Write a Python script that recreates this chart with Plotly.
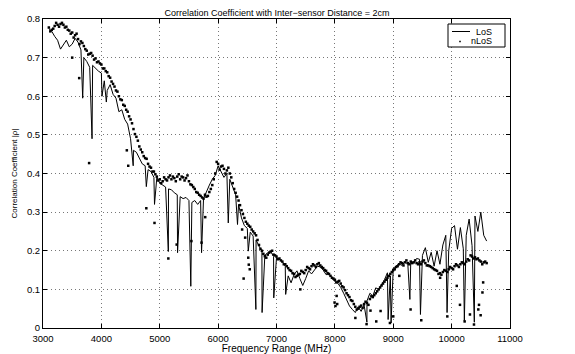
import plotly.graph_objects as go

# Frequency grid (MHz) for the sampled traces
freq = list(range(3100, 10601, 50))
freq_b = list(range(3125, 10576, 50))

los_vals = [
    0.775, 0.768, 0.755, 0.745, 0.722, 0.735, 0.745, 0.728, 0.735, 0.750,
    0.740, 0.720, 0.700, 0.690, 0.675, 0.680, 0.672, 0.665, 0.660, 0.640,
    0.615, 0.630, 0.605, 0.595, 0.560, 0.565, 0.540, 0.528, 0.490, 0.460,
    0.455, 0.440, 0.425, 0.420, 0.410, 0.405, 0.390, 0.390, 0.375, 0.370,
    0.365, 0.360, 0.358, 0.350, 0.345, 0.340, 0.335, 0.338, 0.330, 0.325,
    0.330, 0.320, 0.330, 0.335, 0.355, 0.370, 0.385, 0.395, 0.420, 0.405,
    0.390, 0.400, 0.385, 0.365, 0.345, 0.320, 0.285, 0.265, 0.258, 0.248,
    0.238, 0.228, 0.212, 0.200, 0.188, 0.195, 0.198, 0.185, 0.183, 0.178,
    0.172, 0.160, 0.135, 0.117, 0.138, 0.148, 0.128, 0.110, 0.128, 0.148,
    0.140, 0.150, 0.160, 0.158, 0.150, 0.138, 0.140, 0.130, 0.120, 0.116,
    0.105, 0.090, 0.074, 0.057, 0.048, 0.040, 0.055, 0.043, 0.060, 0.070,
    0.090, 0.083, 0.104, 0.100, 0.113, 0.125, 0.143, 0.135, 0.155, 0.160,
    0.168, 0.162, 0.172, 0.165, 0.172, 0.170, 0.180, 0.178, 0.188, 0.208,
    0.170, 0.196, 0.160, 0.200, 0.165, 0.215, 0.240, 0.200, 0.258, 0.265,
    0.204, 0.260, 0.205, 0.240, 0.282, 0.213, 0.290, 0.250, 0.300, 0.240,
    0.225,
]

# Narrow deep notches in the LoS curve
los_dip_freq = [3680, 3840, 4010, 4085, 4545, 4770, 4910, 5147, 5305, 5532,
                5716, 6174, 6332, 6516, 6647, 6753, 6953, 7157, 8549, 8912,
                8963, 9285, 9466, 9922, 10218, 10389]
los_dip_vals = [0.595, 0.490, 0.600, 0.585, 0.420, 0.366, 0.320, 0.198, 0.195, 0.108,
                0.195, 0.272, 0.268, 0.199, 0.048, 0.040, 0.078, 0.087, 0.015, 0.022,
                0.013, 0.074, 0.035, 0.040, 0.019, 0.015]

nlos_vals = [
    0.778, 0.772, 0.782, 0.785, 0.787, 0.785, 0.780, 0.770, 0.765, 0.758,
    0.748, 0.742, 0.730, 0.718, 0.710, 0.705, 0.698, 0.690, 0.682, 0.672,
    0.662, 0.648, 0.632, 0.615, 0.600, 0.590, 0.575, 0.560, 0.540, 0.515,
    0.495, 0.470, 0.455, 0.440, 0.425, 0.415, 0.405, 0.392, 0.385, 0.380,
    0.385, 0.390, 0.385, 0.388, 0.392, 0.385, 0.390, 0.388, 0.380, 0.370,
    0.360, 0.350, 0.342, 0.335, 0.340, 0.352, 0.370, 0.400, 0.425, 0.418,
    0.412, 0.408, 0.400, 0.375, 0.350, 0.330, 0.305, 0.285, 0.270, 0.262,
    0.250, 0.240, 0.215, 0.200, 0.186, 0.190, 0.198, 0.190, 0.185, 0.180,
    0.172, 0.165, 0.155, 0.148, 0.140, 0.135, 0.140, 0.145, 0.150, 0.155,
    0.160, 0.162, 0.165, 0.162, 0.155, 0.148, 0.140, 0.130, 0.125, 0.120,
    0.115, 0.105, 0.090, 0.080, 0.070, 0.055, 0.050, 0.058, 0.062, 0.065,
    0.075, 0.080, 0.090, 0.100, 0.110, 0.120, 0.130, 0.140, 0.150, 0.158,
    0.165, 0.168, 0.170, 0.168, 0.172, 0.170, 0.168, 0.170, 0.172, 0.168,
    0.162, 0.158, 0.152, 0.148, 0.142, 0.145, 0.148, 0.152, 0.155, 0.160,
    0.162, 0.165, 0.168, 0.172, 0.175, 0.185, 0.183, 0.180, 0.172, 0.170,
    0.168,
]

nlos_vals_b = [
    0.768, 0.775, 0.790, 0.780, 0.790, 0.778, 0.772, 0.762, 0.752, 0.762,
    0.735, 0.738, 0.722, 0.708, 0.712, 0.695, 0.688, 0.685, 0.672, 0.665,
    0.652, 0.638, 0.625, 0.612, 0.592, 0.578, 0.565, 0.548, 0.530, 0.502,
    0.485, 0.462, 0.445, 0.438, 0.418, 0.405, 0.398, 0.382, 0.375, 0.390,
    0.382, 0.395, 0.392, 0.380, 0.398, 0.392, 0.382, 0.395, 0.372, 0.365,
    0.352, 0.345, 0.338, 0.345, 0.342, 0.360, 0.385, 0.430, 0.410, 0.420,
    0.400, 0.415, 0.390, 0.360, 0.340, 0.318, 0.295, 0.275, 0.265, 0.255,
    0.245, 0.228, 0.205, 0.192, 0.182, 0.195, 0.200, 0.188, 0.178, 0.175,
    0.165, 0.160, 0.150, 0.142, 0.132, 0.138, 0.148, 0.142, 0.158, 0.152,
    0.165, 0.158, 0.168, 0.158, 0.150, 0.142, 0.135, 0.128, 0.118, 0.122,
    0.108, 0.098, 0.085, 0.072, 0.062, 0.048, 0.055, 0.052, 0.068, 0.060,
    0.082, 0.085, 0.095, 0.105, 0.115, 0.125, 0.135, 0.145, 0.152, 0.160,
    0.170, 0.162, 0.175, 0.165, 0.168, 0.175, 0.165, 0.165, 0.175, 0.162,
    0.160, 0.155, 0.150, 0.140, 0.138, 0.150, 0.145, 0.158, 0.152, 0.165,
    0.158, 0.170, 0.165, 0.178, 0.188, 0.180, 0.178, 0.175, 0.165, 0.172,
]

# Scattered nLoS samples away from the main band
nlos_out_freq = [3500, 3620, 3790, 4436, 4460, 4770, 4910, 5147, 5290, 5542,
                 5716, 5779, 6411, 6437, 6463, 6516, 6525, 6542, 7408, 7995,
                 8010, 8030, 8040, 8351, 8543, 8610, 8709, 8783, 8943, 9000,
                 9104, 9297, 9480, 9803, 9926, 10088, 10143, 10223, 10314, 10383,
                 10457, 10469, 10497, 10528, 10540]
nlos_out_vals = [0.700, 0.647, 0.427, 0.460, 0.420, 0.310, 0.272, 0.180, 0.216, 0.225,
                 0.221, 0.287, 0.255, 0.128, 0.234, 0.182, 0.164, 0.152, 0.100, 0.066,
                 0.057, 0.083, 0.062, 0.026, 0.010, 0.045, 0.017, 0.044, 0.013, 0.030,
                 0.135, 0.048, 0.020, 0.130, 0.030, 0.109, 0.060, 0.017, 0.035, 0.009,
                 0.048, 0.060, 0.033, 0.092, 0.118]

title_text = "Correlation Coefficient with Inter\u2212sensor Distance = 2cm"
x_title = "Frequency Range (MHz)"
y_title = "Correlation Coefficient |\u03c1|"
x_ticks = [3000, 4000, 5000, 6000, 7000, 8000, 9000, 10000, 11000]
x_ticklabels = ["3000", "4000", "5000", "6000", "7000", "8000", "9000", "10000", "11000"]
y_ticks = [0, 0.1, 0.2, 0.3, 0.4, 0.5, 0.6, 0.7, 0.8]
y_ticklabels = ["0", "0.1", "0.2", "0.3", "0.4", "0.5", "0.6", "0.7", "0.8"]
legend_names = ["LoS", "nLoS"]

# merge LoS grid with notches
los_pts = sorted(list(zip(freq, los_vals)) + list(zip(los_dip_freq, los_dip_vals)))
los_x = [p[0] for p in los_pts]
los_y = [p[1] for p in los_pts]

nb = min(len(freq_b), len(nlos_vals_b))
nlos_x = list(freq) + freq_b[:nb] + nlos_out_freq
nlos_y = list(nlos_vals) + nlos_vals_b[:nb] + nlos_out_vals

font_family = "Liberation Sans, Arial, Helvetica, sans-serif"

# plot area in pixels (for the hand-drawn MATLAB style legend box)
W, H = 575, 354
L, R, T, B = 43, 510, 19, 328
def px(x):
    return (x - L) / (R - L)
def py(y):
    return (B - y) / (B - T)

fig = go.Figure()
fig.add_trace(go.Scatter(
    x=los_x, y=los_y, mode="lines", name=legend_names[0],
    line=dict(color="black", width=1), showlegend=False,
))
fig.add_trace(go.Scatter(
    x=nlos_x, y=nlos_y, mode="markers", name=legend_names[1],
    marker=dict(color="black", size=2.5, symbol="square", line=dict(width=0)),
    showlegend=False,
))

axis_common = dict(
    showline=True, linecolor="black", linewidth=1, mirror="ticks",
    ticks="inside", ticklen=4, tickcolor="black", tickwidth=1,
    showgrid=True, gridcolor="#777777", griddash="1px,3px", gridwidth=1,
    zeroline=False, automargin=False,
    tickfont=dict(family=font_family, size=9.5, color="black"),
)

shapes = [
    dict(type="rect", xref="paper", yref="paper",
         x0=px(448), x1=px(505), y0=py(47), y1=py(24),
         line=dict(color="black", width=1), fillcolor="white", layer="above"),
    dict(type="line", xref="paper", yref="paper",
         x0=px(452), x1=px(470), y0=py(31.5), y1=py(31.5),
         line=dict(color="black", width=1), layer="above"),
    dict(type="rect", xref="paper", yref="paper",
         x0=px(459.2), x1=px(460.8), y0=py(42.3), y1=py(40.7),
         line=dict(color="black", width=0), fillcolor="black", layer="above"),
]
annotations = [
    dict(text=legend_names[0], xref="paper", yref="paper", x=px(494), y=py(31.5),
         xanchor="right", yanchor="middle", showarrow=False,
         font=dict(family=font_family, size=9, color="black")),
    dict(text=legend_names[1], xref="paper", yref="paper", x=px(494), y=py(41.5),
         xanchor="right", yanchor="middle", showarrow=False,
         font=dict(family=font_family, size=9, color="black")),
]

fig.update_layout(
    width=W, height=H,
    margin=dict(l=L, r=W - R, t=T, b=H - B, pad=0, autoexpand=False),
    paper_bgcolor="white", plot_bgcolor="white",
    title=dict(text=title_text, xref="container", yref="container",
               x=277 / W, xanchor="center", y=1 - 12.5 / H, yanchor="middle",
               font=dict(family=font_family, size=9, color="black")),
    xaxis=dict(range=[3000, 11000], tickvals=x_ticks, ticktext=x_ticklabels, **axis_common,
               ticklabelstandoff=2,
               title=dict(text=x_title, standoff=1,
                          font=dict(family=font_family, size=10, color="black"))),
    yaxis=dict(range=[0, 0.8], tickvals=y_ticks, ticktext=y_ticklabels, **axis_common,
               title=dict(text=y_title, standoff=8,
                          font=dict(family=font_family, size=8, color="black"))),
    shapes=shapes,
    annotations=annotations,
    showlegend=False,
)

fig.write_html("out.html")
